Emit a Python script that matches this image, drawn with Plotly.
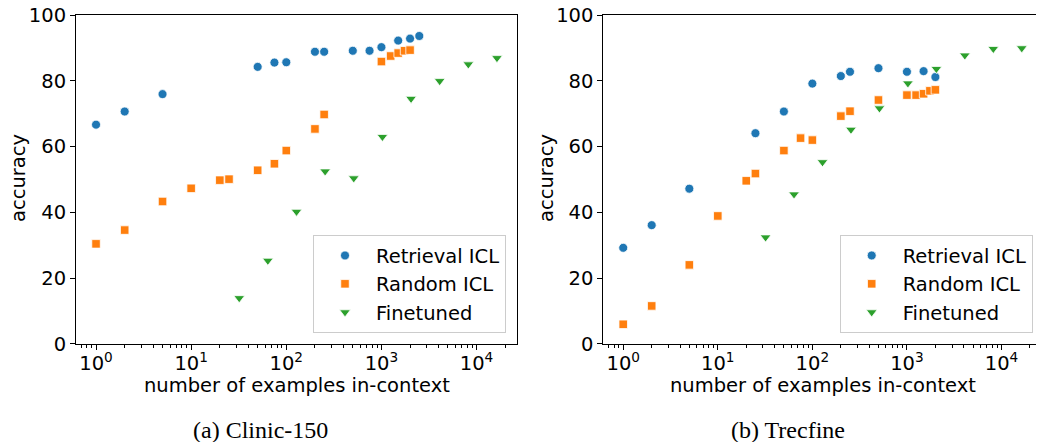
import plotly.graph_objects as go

# ---------------- data ----------------
# (a) Clinic-150
clinic_retrieval_x = [1, 2, 5, 50, 75, 100, 200, 250, 500, 750, 1000, 1500, 2000, 2500]
clinic_retrieval_y = [66.7, 70.7, 76.0, 84.3, 85.6, 85.7, 88.9, 88.9, 89.2, 89.2, 90.3, 92.3, 92.9, 93.7]
clinic_random_x = [1, 2, 5, 10, 20, 25, 50, 75, 100, 200, 250, 1000, 1250, 1500, 1750, 2000]
clinic_random_y = [30.4, 34.6, 43.3, 47.3, 49.8, 50.1, 52.8, 54.8, 58.8, 65.4, 69.8, 85.9, 87.6, 88.5, 89.2, 89.4]
clinic_ft_x = [32, 64, 128, 256, 512, 1024, 2048, 4096, 8192, 16384]
clinic_ft_y = [13.9, 25.3, 40.2, 52.5, 50.4, 63.0, 74.6, 80.0, 85.1, 87.0]

# (b) Trecfine
trec_retrieval_x = [1, 2, 5, 25, 50, 100, 200, 250, 500, 1000, 1500, 2000]
trec_retrieval_y = [29.2, 36.1, 47.2, 64.1, 70.7, 79.2, 81.5, 82.8, 83.9, 82.8, 83.0, 81.2]
trec_random_x = [1, 2, 5, 10, 20, 25, 50, 75, 100, 200, 250, 500, 1000, 1250, 1500, 1750, 2000]
trec_random_y = [5.9, 11.5, 24.0, 38.9, 49.6, 51.8, 58.8, 62.6, 62.0, 69.3, 70.8, 74.2, 75.7, 75.7, 76.1, 77.0, 77.3]
trec_ft_x = [32, 64, 128, 256, 512, 1024, 2048, 4096, 8192, 16384]
trec_ft_y = [32.4, 45.5, 55.3, 65.2, 71.7, 79.3, 83.7, 87.8, 89.8, 90.0]

series_names = ["Retrieval ICL", "Random ICL", "Finetuned"]
x_tick_vals = [1, 10, 100, 1000, 10000]
x_tick_text = ["10<sup>0</sup>", "10<sup>1</sup>", "10<sup>2</sup>", "10<sup>3</sup>", "10<sup>4</sup>"]
y_tick_vals = [0, 20, 40, 60, 80, 100]
subplot_captions = ["(a) Clinic-150", "(b) Trecfine"]
x_title = "number of examples in-context"
y_title = "accuracy"

# ---------------- style ----------------
# page body has an 8px margin, so the figure is drawn 8px smaller and offset
OFF = 8
W, H = 1044 - OFF, 442 - OFF
colors = ["#1f77b4", "#ff7f0e", "#2ca02c"]
symbols = ["circle", "square", "triangle-down"]
sizes = [9, 8.5, 9.5]
FONT = "DejaVu Sans"
FS = 19.5

minor_vals = [m * 10 ** k for k in range(-1, 5) for m in range(2, 10)]
minor_vals = [v for v in minor_vals if 0.6 < v < 27000]

fig = go.Figure()

panels = [
    ("x", "y", "legend",
     [(clinic_retrieval_x, clinic_retrieval_y), (clinic_random_x, clinic_random_y), (clinic_ft_x, clinic_ft_y)]),
    ("x2", "y2", "legend2",
     [(trec_retrieval_x, trec_retrieval_y), (trec_random_x, trec_random_y), (trec_ft_x, trec_ft_y)]),
]
for xa, ya, lg, data in panels:
    for i, (xs, ys) in enumerate(data):
        fig.add_trace(go.Scatter(
            x=xs, y=ys, mode="markers", name=series_names[i],
            xaxis=xa, yaxis=ya, legend=lg,
            marker=dict(color=colors[i], symbol=symbols[i], size=sizes[i],
                        line=dict(color="white", width=0.8)),
            showlegend=True,
        ))

def px_x(p):
    return (p - OFF) / W

def px_y(p):
    return 1 - (p - OFF) / H

x_range = [-0.2107, 4.4251]
common_x = dict(
    type="log", range=x_range, tickmode="array", tickvals=x_tick_vals, ticktext=x_tick_text,
    ticks="outside", ticklen=5, tickwidth=1, tickcolor="black",
    showline=True, linecolor="black", linewidth=1, mirror=True,
    showgrid=False, zeroline=False, automargin=False,
    ticklabeloverflow="allow", ticklabelstandoff=-3,
    tickfont=dict(family=FONT, size=FS, color="black"),
    minor=dict(ticks="outside", ticklen=3, tickwidth=1, tickcolor="black",
               tickmode="array", tickvals=minor_vals, showgrid=False),
)
common_y = dict(
    range=[0, 100], tickmode="array", tickvals=y_tick_vals,
    ticks="outside", ticklen=5, tickwidth=1, tickcolor="black",
    showline=True, linecolor="black", linewidth=1, mirror=True,
    showgrid=False, zeroline=False, automargin=False,
    ticklabeloverflow="allow",
    tickfont=dict(family=FONT, size=FS, color="black"),
    domain=[px_y(343.7), px_y(15.3)],
)

legend_common = dict(
    bgcolor="rgba(255,255,255,0.8)", bordercolor="#cccccc", borderwidth=1,
    font=dict(family=FONT, size=FS, color="black"),
    traceorder="normal", itemwidth=52,
    xanchor="right", yanchor="bottom",
)

fig.update_layout(
    width=W, height=H,
    margin=dict(l=0, r=0, t=0, b=0, autoexpand=False),
    paper_bgcolor="white", plot_bgcolor="white",
    font=dict(family=FONT, size=FS, color="black"),
    xaxis=dict(common_x, domain=[px_x(76), px_x(517)], anchor="y"),
    yaxis=dict(common_y, anchor="x"),
    xaxis2=dict(common_x, domain=[px_x(603.3), px_x(1041.7)], anchor="y2"),
    yaxis2=dict(common_y, anchor="x2"),
    legend=dict(legend_common, x=px_x(506), y=px_y(333.3)),
    legend2=dict(legend_common, x=px_x(1032.7), y=px_y(333.3)),
)

ann = []
for cx, yl_x, cap_x, cap in [(296.5, 18, 260, subplot_captions[0]), (822.5, 546, 788, subplot_captions[1])]:
    ann.append(dict(text=x_title, xref="paper", yref="paper", x=px_x(cx), y=px_y(385.7),
                    xanchor="center", yanchor="middle", showarrow=False,
                    font=dict(family=FONT, size=FS, color="black")))
    ann.append(dict(text=y_title, xref="paper", yref="paper", x=px_x(yl_x), y=px_y(178),
                    xanchor="center", yanchor="middle", showarrow=False, textangle=-90,
                    font=dict(family=FONT, size=FS, color="black")))
    ann.append(dict(text=cap, xref="paper", yref="paper", x=px_x(cap_x), y=px_y(430),
                    xanchor="center", yanchor="middle", showarrow=False,
                    font=dict(family="Liberation Serif", size=24, color="black")))
fig.update_layout(annotations=ann)

fig.write_html("out.html")
